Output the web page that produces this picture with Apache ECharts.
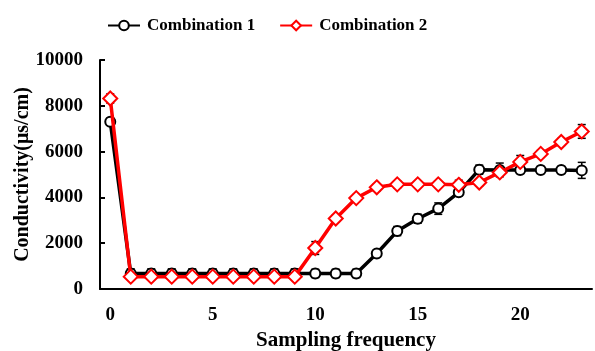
<!DOCTYPE html>
<html><head><meta charset="utf-8">
<script src="https://cdn.jsdelivr.net/npm/echarts@6/dist/echarts.min.js"></script>
<style>html,body{margin:0;padding:0;background:#fff}#c{width:595px;height:351px}</style>
</head><body><div id="c"></div>
<script>
const categories = ['0','1','2','3','4','5','6','7','8','9','10','11','12','13','14','15','16','17','18','19','20','21','22','23'];
const combo1 = [7300,680,680,680,680,680,680,680,680,680,680,680,680,1550,2530,3070,3510,4220,5210,5200,5200,5200,5200,5180];
const combo1Err = [150,200,200,200,200,200,200,200,200,200,180,180,180,120,200,200,250,150,200,300,150,150,150,350];
const combo2 = [8320,540,540,540,540,540,540,540,540,540,1790,3080,3970,4440,4570,4570,4570,4550,4650,5090,5550,5900,6420,6880];
const combo2Err = [200,100,100,100,100,100,100,100,100,100,280,150,150,150,150,100,100,200,150,150,280,150,150,300];
const seriesNames = ['Combination 1','Combination 2'];
const yTicks = {min:0, max:10000, interval:2000};

const font = 'Liberation Serif';
function errSeries(vals, errs, color) {
  return {
    type:'custom', silent:true, z:1,
    data: vals.map((v,i)=>[i, v-errs[i], v+errs[i]]),
    renderItem: function(params, api){
      const x = api.value(0);
      const lo = api.coord([x, api.value(1)]);
      const hi = api.coord([x, api.value(2)]);
      const w = 4;
      const st = {stroke: color, lineWidth: 1.5};
      return {type:'group', children:[
        {type:'line', shape:{x1:lo[0],y1:lo[1],x2:hi[0],y2:hi[1]}, style:st},
        {type:'line', shape:{x1:lo[0]-w,y1:lo[1],x2:lo[0]+w,y2:lo[1]}, style:st},
        {type:'line', shape:{x1:hi[0]-w,y1:hi[1],x2:hi[0]+w,y2:hi[1]}, style:st}
      ]};
    }
  };
}
const chart = echarts.init(document.getElementById('c'), null, {renderer:'canvas'});
chart.setOption({
  animation:false,
  backgroundColor:'#fff',
  legend:{
    top:12, left:102, itemWidth:32, itemHeight:12, itemGap:24,
    textStyle:{fontFamily:font, fontWeight:'bold', fontSize:17, color:'#000', padding:[0,0,0,2]},
    data: seriesNames
  },
  grid:{left:100, top:60, right:3, bottom:62, outerBoundsMode:'none', containLabel:false},
  xAxis:{
    type:'category', data:categories, boundaryGap:true,
    name:'Sampling frequency', nameLocation:'middle', nameGap:40,
    nameTextStyle:{fontFamily:font, fontWeight:'bold', fontSize:21, color:'#000'},
    axisLine:{lineStyle:{color:'#000', width:2}},
    axisTick:{inside:true, length:5, interval:function(i){return i%5===0;}, lineStyle:{color:'#000', width:2}},
    axisLabel:{interval:4, margin:17, fontFamily:font, fontWeight:'bold', fontSize:19, color:'#000'},
    splitLine:{show:false}
  },
  yAxis:{
    type:'value', min:yTicks.min, max:yTicks.max, interval:yTicks.interval,
    name:'Conductivity(μs/cm)', nameLocation:'middle', nameGap:67, nameMoveOverlap:false,
    nameTextStyle:{fontFamily:font, fontWeight:'bold', fontSize:20, color:'#000'},
    axisLine:{show:true, lineStyle:{color:'#000', width:2}},
    axisTick:{show:true, inside:true, length:5, lineStyle:{color:'#000', width:2}},
    axisLabel:{margin:17, formatter:function(v){return String(v);}, fontFamily:font, fontWeight:'bold', fontSize:19, color:'#000'},
    splitLine:{show:false}
  },
  series:[
    errSeries(combo1, combo1Err, '#000'),
    errSeries(combo2, combo2Err, '#000'),
    {name:seriesNames[0], type:'line', data:combo1, z:3, showAllSymbol:true,
     symbol:'circle', symbolSize:10,
     lineStyle:{color:'#000', width:3.5},
     itemStyle:{color:'#fff', borderColor:'#000', borderWidth:2}},
    {name:seriesNames[1], type:'line', data:combo2, z:4, showAllSymbol:true,
     symbol:'diamond', symbolSize:14,
     lineStyle:{color:'#ff0000', width:3.5},
     itemStyle:{color:'#fff', borderColor:'#ff0000', borderWidth:2}}
  ]
});
</script></body></html>
